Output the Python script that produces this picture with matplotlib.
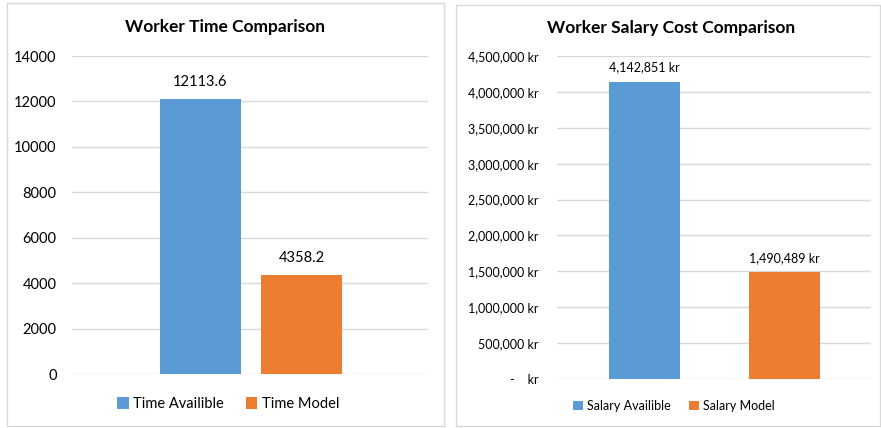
import matplotlib.pyplot as plt
from matplotlib.patches import Rectangle

plt.rcParams['font.family'] = ['Lato', 'DejaVu Sans']

time_labels = ['Time Availible', 'Time Model']
time_values = [12113.6, 4358.2]
time_ticks = [0, 2000, 4000, 6000, 8000, 10000, 12000, 14000]

salary_labels = ['Salary Availible', 'Salary Model']
salary_values = [4142851, 1490489]
salary_ticks = [0, 500000, 1000000, 1500000, 2000000, 2500000, 3000000, 3500000, 4000000, 4500000]

colors = ['#5b9bd5', '#ed7d31']
grid_c = '#d9d9d9'

W, H = 881, 428
fig = plt.figure(figsize=(W / 100, H / 100), dpi=100)

def px(x0, y0, x1, y1):
    return [x0 / W, 1 - y1 / H, (x1 - x0) / W, (y1 - y0) / H]

# panel borders
for (x0, y0, x1, y1) in [(7, 3, 444, 426), (456, 5, 880, 426)]:
    fig.add_artist(Rectangle((x0 / W, 1 - y1 / H), (x1 - x0) / W, (y1 - y0) / H,
                             transform=fig.transFigure, fill=False,
                             edgecolor='#d9d9d9', linewidth=1))

def style(ax, ticks, pad):
    for s in ax.spines.values():
        s.set_visible(False)
    ax.set_yticks(ticks)
    ax.set_ylim(ticks[0], ticks[-1])
    ax.set_xticks([])
    ax.tick_params(axis='y', length=0, labelsize=10, labelcolor='#000000', pad=pad)
    ax.grid(axis='y', color=grid_c, linewidth=1)
    ax.set_axisbelow(True)

# left chart
ax1 = fig.add_axes(px(72, 56, 428, 374))
style(ax1, time_ticks, 11)
ax1.tick_params(axis='y', labelsize=10.5)
b1 = ax1.bar([0, 1], time_values, width=0.80, color=colors)
ax1.set_xlim(-1.272, 2.252)
for x, v in zip([0, 1], time_values):
    ax1.annotate(f'{v:.1f}', (x, v), xytext=(0, 7), textcoords='offset points',
                 ha='center', va='bottom', fontsize=10.5)
fig.text(225.5 / W, 1 - 27 / H, 'Worker Time Comparison', fontsize=12.5,
         fontweight='bold', ha='center', va='center')
fig.legend(b1, time_labels, loc='center', bbox_to_anchor=(228 / W, 1 - 404 / H),
           ncol=2, frameon=False, fontsize=10.5, handlelength=0.8, handleheight=0.8,
           handletextpad=0.3, columnspacing=1.5)

# right chart
def kr(v):
    if v == 0:
        return '-    kr'
    return f'{v:,.0f} kr'

ax2 = fig.add_axes(px(557, 56, 871, 379))
style(ax2, salary_ticks, 13)
ax2.set_yticklabels([kr(v) for v in salary_ticks])
ax2.tick_params(axis='y', labelsize=9)
b2 = ax2.bar([0, 1], salary_values, width=0.507, color=colors)
ax2.set_xlim(-0.625, 1.618)
for x, v in zip([0, 1], salary_values):
    ax2.annotate(kr(v), (x, v), xytext=(0, 6), textcoords='offset points',
                 ha='center', va='bottom', fontsize=9)
fig.text(671 / W, 1 - 28 / H, 'Worker Salary Cost Comparison', fontsize=12.5,
         fontweight='bold', ha='center', va='center')
fig.legend(b2, salary_labels, loc='center', bbox_to_anchor=(674 / W, 1 - 406 / H),
           ncol=2, frameon=False, fontsize=9, handlelength=0.8, handleheight=0.8,
           handletextpad=0.3, columnspacing=1.5)

fig.savefig('out.png', dpi=100)
